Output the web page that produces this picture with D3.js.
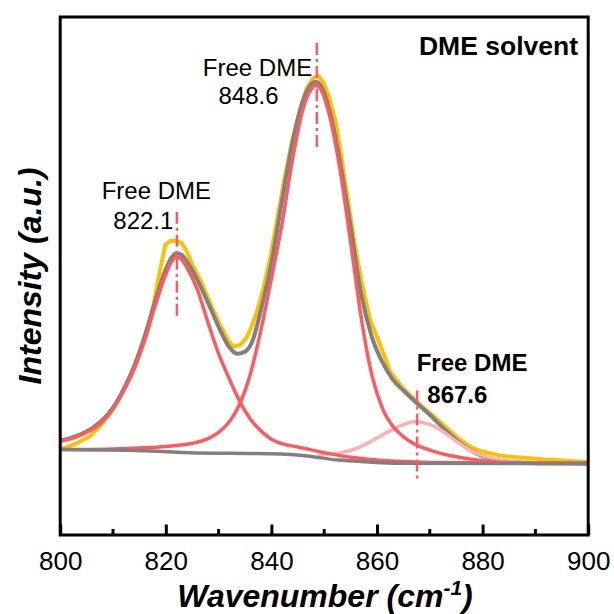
<!DOCTYPE html>
<html><head><meta charset="utf-8">
<script src="https://cdn.jsdelivr.net/npm/d3@7"></script>
<style>body{margin:0;background:#fff}svg{display:block}text{font-family:"Liberation Sans",Arial,sans-serif;fill:#000}</style>
</head><body><svg id="c" width="614" height="614"></svg>
<script>
// ---- data (wavenumber cm^-1, intensity a.u.) ----
const xTickValues = [800, 820, 840, 860, 880, 900];
const xMinorTicks = [810, 830, 850, 870, 890];
const measured = [[800,16.7],[800.6,16.74],[803.1,17.7],[805.6,19.0],[807.5,21.0],[809.4,23.4],[811,26.0],[812.6,29.2],[814.5,33.5],[816.4,39.0],[817.6,44.0],[818.6,49.5],[819.3,53.0],[819.9,56.0],[820.9,56.8],[821.9,56.76],[823.0,56.37],[824.0,54.7],[825.2,51.8],[826.5,49.3],[828.4,44.8],[830.3,40.5],[831.8,37.6],[832.8,36.35],[834.1,36.7],[835.2,37.9],[836.0,39.6],[837.2,42.9],[838.4,47.3],[839.7,53.1],[841.2,61.5],[842.6,69.5],[844.0,76.5],[845.4,82.05],[846.7,86.3],[847.9,88.2],[848.9,88.6],[849.8,87.45],[850.8,84.94],[852.1,80.12],[853.0,74.8],[853.9,68.53],[854.9,62.0],[855.8,55.98],[857.2,48.26],[858.7,41.51],[860.6,36.68],[862.5,31.53],[864.9,28.38],[867.5,25.73],[870.0,23.55],[872.6,21.24],[875.1,18.92],[877.6,17.05],[879.5,16.22],[881.4,15.77],[883.3,15.35],[885.2,15.12],[887.1,14.96],[889.0,14.81],[891.8,14.58],[894.0,14.48],[896.6,14.29],[899.1,14.15],[900,14.09]];
const fitSum = [[800,18.2],[803,19.1],[806,20.6],[808,22.2],[810,24.6],[812,28.1],[814,32.6],[816,38.4],[818,45.2],[820,51.3],[821,53.4],[822,54.4],[823,54.1],[824,52.8],[826,49.2],[828,44.8],[830,40.2],[832,36.3],[833.5,35.0],[835,35.4],[836.5,37.7],[838,43.4],[840,52.5],[842,64.5],[844,75.8],[846,83.9],[847.5,87.0],[848.5,87.5],[849.5,86.5],[851,82.0],[853,72.0],[855,59.5],[857,46.5],[859,38.3],[861,33.4],[863,30.0],[865,27.9],[867.5,25.5],[870,23.2],[872.5,20.7],[875,18.4],[877.5,16.5],[880,15.2],[883,14.4],[887,14.0],[892,13.85],[900,13.8]];
const peak1 = [[800,18.1],[803,18.9],[806,20.4],[808,21.9],[810,24.3],[812,27.8],[814,32.0],[816,37.6],[818,44.3],[820,50.3],[821,52.6],[822,53.7],[823,53.2],[824,51.6],[826,47.3],[828,41.0],[830,35.0],[832,30.2],[834,25.8],[836,22.4],[838,20.1],[840,18.5],[842.5,17.5],[845,17.0],[850,15.9],[855,15.0],[860,14.5],[865,14.2],[875,13.95],[885,13.85],[900,13.8]];
const peak2 = [[800,16.49],[805,16.5],[810,16.6],[815,16.8],[820,17.1],[825,17.7],[828,18.6],[830,19.8],[832,21.8],[834,25.3],[836,31.0],[838,39.5],[840,49.5],[842,60.0],[844,72.5],[846,82.3],[847.5,86.0],[848.5,86.8],[849.5,85.8],[851,81.0],[853,70.5],[855,56.5],[857,42.0],[859,31.0],[861,24.5],[863,21.0],[865,19.0],[867,17.6],[870,16.4],[875,15.1],[880,14.35],[885,14.0],[890,13.88],[900,13.8]];
const peak3 = [[849,15.4],[853,15.85],[855.5,16.5],[858,17.6],[860.5,19.0],[863,20.4],[865,21.3],[867.3,21.9],[869.5,21.5],[872.5,20.0],[875,18.1],[878,16.2],[881.5,14.9],[885,14.2],[889,13.9],[895,13.8]];
const baseline = [[800,16.49],[812.8,16.37],[825.7,15.85],[832.2,15.77],[841.8,15.64],[846.3,15.31],[852.7,14.46],[857.9,14.13],[864.3,13.86],[900,13.8]];
const peakCenters = [822.1, 848.6, 867.6];
const peakMarkTop = [62.4, 95.0, 27.9];
const peakMarkBottom = [41.9, 74.5, 10.8];

// ---- drawing ----
const svg = d3.select("#c");
const x = d3.scaleLinear().domain([800, 900]).range([60.2, 588.2]);
const y = d3.scaleLinear().domain([0, 100]).range([535, 17]);

svg.append("defs").append("clipPath").attr("id","clip")
  .append("rect").attr("x",60.2).attr("y",17).attr("width",528).attr("height",518);

const g = svg.append("g").attr("clip-path","url(#clip)");
const smooth = d3.line().x(d=>x(d[0])).y(d=>y(d[1])).curve(d3.curveMonotoneX);
const straight = d3.line().x(d=>x(d[0])).y(d=>y(d[1]));

function path(data, gen, color, w){
  g.append("path").attr("d", gen(data)).attr("fill","none")
   .attr("stroke",color).attr("stroke-width",w).attr("stroke-linejoin","round").attr("stroke-linecap","round");
}
path(measured, straight, "#FFC000", 4);
path(fitSum, smooth, "#808080", 4);
path(peak3, smooth, "#FFB0B0", 3.5);
path(peak1, smooth, "#FF5B5F", 3.5);
path(peak2, smooth, "#FF5B5F", 3.5);
path(baseline, smooth, "#808080", 3.5);

peakCenters.forEach((c,i)=>{
  g.append("line").attr("x1",x(c)).attr("x2",x(c))
   .attr("y1",y(peakMarkTop[i])).attr("y2",y(peakMarkBottom[i]))
   .attr("stroke","#FF5B5F").attr("stroke-width",2.5).attr("stroke-dasharray","12,4,3,4");
});

// axis ticks (inward)
const axis = d3.axisBottom(x).tickValues(xTickValues).tickSize(0).tickPadding(0);
const ax = svg.append("g").attr("transform","translate(0,535)").call(axis);
ax.select(".domain").remove();
ax.selectAll("text").attr("y",34.5).attr("dy",0).style("font-size","26px").attr("fill","#000");
ax.selectAll(".tick").each(function(d){
  d3.select(this).append("line").attr("y1",0).attr("y2",-10.5).attr("stroke","#000").attr("stroke-width",3);
});
xMinorTicks.forEach(t=>{
  svg.append("line").attr("x1",x(t)).attr("x2",x(t)).attr("y1",535).attr("y2",529)
   .attr("stroke","#000").attr("stroke-width",3);
});

// frame
svg.append("rect").attr("x",60.2).attr("y",17).attr("width",528).attr("height",518)
  .attr("fill","none").attr("stroke","#000").attr("stroke-width",3);

// titles
const xt = svg.append("text").attr("x",325).attr("y",606.5).attr("text-anchor","middle")
  .style("font-size","32px").style("font-weight","bold").style("font-style","italic");
xt.append("tspan").text("Wavenumber (cm");
xt.append("tspan").text("-1").attr("dy",-12).style("font-size","21px");
xt.append("tspan").text(")").attr("dy",12);

svg.append("text").attr("transform","translate(41,276) rotate(-90)").attr("text-anchor","middle")
  .style("font-size","32px").style("font-weight","bold").style("font-style","italic").text("Intensity (a.u.)");

svg.append("text").attr("x",578).attr("y",55).attr("text-anchor","end")
  .style("font-size","26.5px").style("font-weight","bold").text("DME solvent");

function label(txt,xp,yp,bold){
  svg.append("text").attr("x",xp).attr("y",yp).style("font-size","24px")
   .style("font-weight",bold?"bold":"normal").text(txt);
}
label("Free DME",101.7,199.3,false);
label("822.1",113.3,229.3,false);
label("Free DME",202.8,75.6,false);
label("848.6",218.5,104.3,false);
label("Free DME",416.7,370.7,true);
label("867.6",427.3,403.3,true);
</script></body></html>
